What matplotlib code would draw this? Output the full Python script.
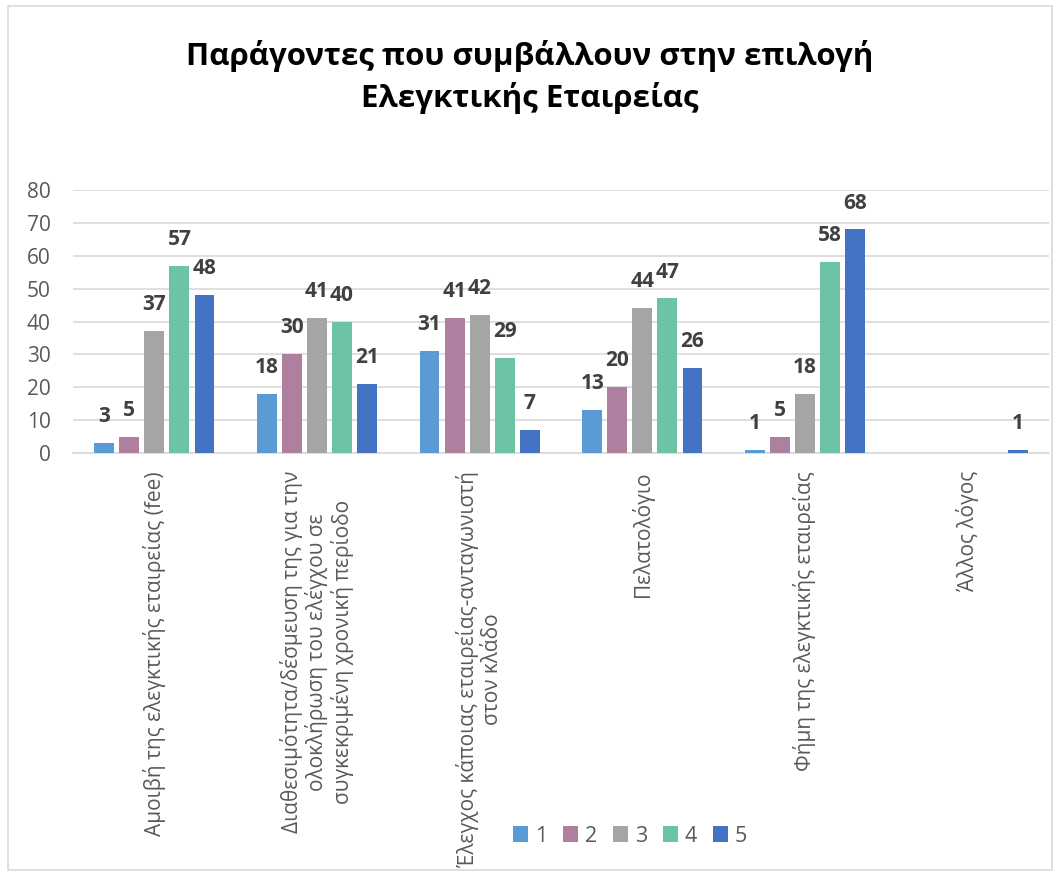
import matplotlib
matplotlib.use("Agg")
import matplotlib.pyplot as plt
import numpy as np
from matplotlib.patches import Rectangle

categories = [
    "Αμοιβή της ελεγκτικής εταιρείας (fee)",
    "Διαθεσιμότητα/δέσμευση της για την\nολοκλήρωση του ελέγχου σε\nσυγκεκριμένη χρονική περίοδο",
    "Έλεγχος κάποιας εταιρείας-ανταγωνιστή\nστον κλάδο",
    "Πελατολόγιο",
    "Φήμη της ελεγκτικής εταιρείας",
    "Άλλος λόγος",
]
series_names = ["1", "2", "3", "4", "5"]
s1 = [3, 18, 31, 13, 1, 0]
s2 = [5, 30, 41, 20, 5, 0]
s3 = [37, 41, 42, 44, 18, 0]
s4 = [57, 40, 29, 47, 58, 0]
s5 = [48, 21, 7, 26, 68, 1]
series = [s1, s2, s3, s4, s5]
colors = ["#5B9BD5", "#AF7FA0", "#A5A5A5", "#6CC4A4", "#4472C4"]
yticks = [0, 10, 20, 30, 40, 50, 60, 70, 80]
title = "Παράγοντες που συμβάλλουν στην επιλογή\nΕλεγκτικής Εταιρείας"

plt.rcParams['font.family'] = ['Open Sans', 'DejaVu Sans']

fig = plt.figure(figsize=(10.6, 8.73), dpi=100)
ax = fig.add_axes([73/1060, 1-453/873, (1049-73)/1060, (453-190)/873])

x = np.arange(len(categories))
width = 0.122
pitch = 0.154
for i, (vals, c, name) in enumerate(zip(series, colors, series_names)):
    pos = x + (i - 2) * pitch
    ax.bar(pos, vals, width=width, color=c, label=name, zorder=3)
    for xp, v in zip(pos, vals):
        if v > 0:
            ax.annotate(str(v), (xp, v), xytext=(0, 19), textcoords='offset points',
                        ha='center', va='center', fontsize=15, fontweight='bold',
                        color='#404040', zorder=4)

ax.set_xlim(-0.5, len(categories) - 0.5)
ax.set_ylim(0, 80)
ax.set_yticks(yticks)
ax.yaxis.grid(True, color='#D9D9D9', linewidth=1.2, zorder=0)
ax.set_axisbelow(True)
for sp in ['top', 'right', 'left']:
    ax.spines[sp].set_visible(False)
ax.spines['bottom'].set_color('#D9D9D9')
ax.spines['bottom'].set_linewidth(1.2)
ax.tick_params(axis='both', length=0, labelsize=15, colors='#595959')
ax.tick_params(axis='y', pad=16)
ax.set_xticks(x)
ax.set_xticklabels(categories, rotation=90, va='top', ha='center',
                   multialignment='center', fontsize=15, color='#595959',
                   linespacing=1.15)
ax.tick_params(axis='x', pad=13)

fig.text(0.5, 1 - 77/873, title, ha='center', va='center', fontsize=22.5,
         fontweight='bold', color='black', linespacing=1.4)

fig.legend(loc='center', bbox_to_anchor=(630/1060, 1 - 836/873), ncol=5,
           frameon=False, fontsize=15.5, labelcolor='#595959', handlelength=0.7,
           handleheight=0.75, handletextpad=0.3, columnspacing=0.75)

fig.patches.append(Rectangle((8/1060, 3/873), 1044/1060, 864/873, transform=fig.transFigure,
                             fill=False, edgecolor='#D9D9D9', linewidth=1.2))

fig.savefig("out.png", dpi=100, facecolor='white')
